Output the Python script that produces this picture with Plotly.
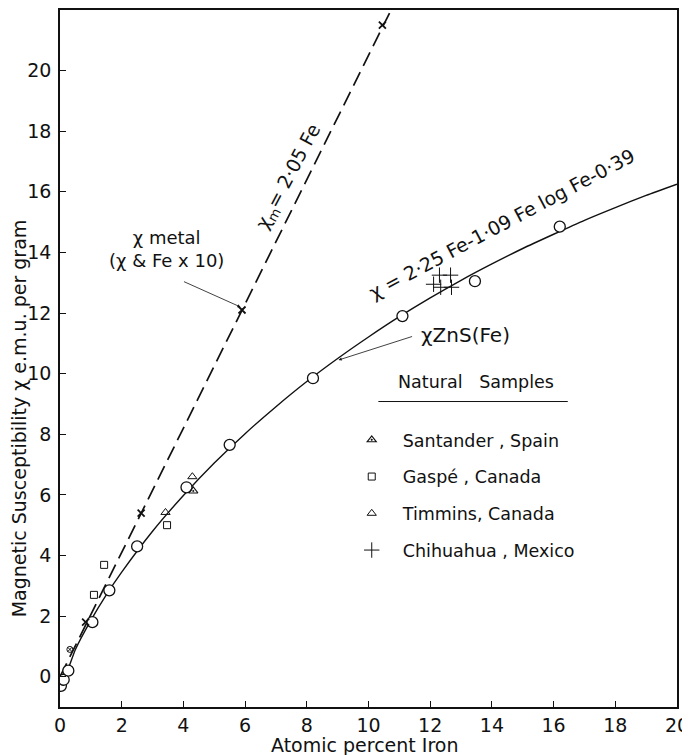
import plotly.graph_objects as go

# ---- data ----
# fitted curve  chi = 2.25 Fe - 1.09 Fe log Fe - 0.39
fit_fe = [0.02, 0.1, 0.25, 0.5, 1, 1.5, 2, 3, 4, 5, 6, 7, 8, 9, 10, 11, 12, 13, 14, 15, 16, 17, 18, 19, 20]
fit_chi = [-0.33, -0.06, 0.22, 0.9, 1.86, 2.7, 3.45, 4.8, 5.98, 7.05, 8.02, 8.91, 9.74, 10.5, 11.21, 11.88, 12.5, 13.08, 13.62, 14.13, 14.6, 15.06, 15.48, 15.88, 16.25]

# metal line  chi_m = 2.05 Fe
metal_line_fe = [0.0, 10.73]
metal_line_chi = [0.0, 22.0]

# synthetic ZnS(Fe) samples (circles)
zns_fe = [0.03, 0.12, 0.27, 1.05, 1.6, 2.5, 4.1, 5.5, 8.2, 11.1, 13.45, 16.2]
zns_chi = [-0.3, -0.1, 0.2, 1.8, 2.85, 4.3, 6.25, 7.65, 9.85, 11.9, 13.05, 14.85]

# metal points (x marks)
metal_fe = [0.83, 2.63, 5.9, 10.45]
metal_chi = [1.8, 5.4, 12.1, 21.5]

# small crossed-circle point
misc_fe = [0.32]
misc_chi = [0.9]

# natural samples
santander_fe = [4.32]
santander_chi = [6.13]
gaspe_fe = [1.1, 1.43, 3.47]
gaspe_chi = [2.7, 3.69, 5.0]
timmins_fe = [3.42, 4.29]
timmins_chi = [5.42, 6.6]
chihuahua_fe = [12.11, 12.3, 12.34, 12.66, 12.69]
chihuahua_chi = [12.95, 13.25, 12.85, 13.25, 12.85]

x_ticks = list(range(0, 21, 2))
y_ticks = list(range(0, 21, 2))

FONT = "DejaVu Sans"
BLACK = "#111111"

fig = go.Figure()

fig.add_trace(go.Scatter(x=metal_line_fe, y=metal_line_chi, mode="lines",
                         line=dict(color=BLACK, width=1.7, dash="15px,7px"),
                         showlegend=False, hoverinfo="skip"))
fig.add_trace(go.Scatter(x=fit_fe, y=fit_chi, mode="lines",
                         line=dict(color=BLACK, width=1.4, shape="spline", smoothing=0.6),
                         showlegend=False, hoverinfo="skip"))
fig.add_trace(go.Scatter(x=zns_fe, y=zns_chi, mode="markers",
                         marker=dict(symbol="circle", size=11, color="white",
                                     line=dict(color=BLACK, width=1.3)),
                         showlegend=False))
fig.add_trace(go.Scatter(x=metal_fe, y=metal_chi, mode="markers",
                         marker=dict(symbol="x-thin-open", size=7, color=BLACK,
                                     line=dict(color=BLACK, width=1.8)),
                         showlegend=False))
fig.add_trace(go.Scatter(x=misc_fe, y=misc_chi, mode="markers",
                         marker=dict(symbol="circle-x-open", size=6, color=BLACK,
                                     line=dict(color=BLACK, width=1)),
                         showlegend=False))

fig.add_trace(go.Scatter(x=santander_fe, y=santander_chi, mode="markers",
                         name="Santander , Spain", legendgroup="a",
                         marker=dict(symbol="triangle-up-open-dot", size=8, color=BLACK,
                                     line=dict(color=BLACK, width=1.1))))
fig.add_trace(go.Scatter(x=gaspe_fe, y=gaspe_chi, mode="markers",
                         name="Gaspé , Canada", legendgroup="b",
                         marker=dict(symbol="square-open", size=7, color=BLACK,
                                     line=dict(color=BLACK, width=1))))
fig.add_trace(go.Scatter(x=timmins_fe, y=timmins_chi, mode="markers",
                         name="Timmins, Canada", legendgroup="c",
                         marker=dict(symbol="triangle-up-open", size=8, color=BLACK,
                                     line=dict(color=BLACK, width=1))))
fig.add_trace(go.Scatter(x=chihuahua_fe, y=chihuahua_chi, mode="markers",
                         name="Chihuahua , Mexico", legendgroup="d",
                         marker=dict(symbol="cross-thin-open", size=11, color=BLACK,
                                     line=dict(color=BLACK, width=1))))

annotations = [
    dict(x=7.43, y=16.5, xref="x", yref="y", text="χ<sub>m</sub>= 2·05 Fe",
         textangle=-62, showarrow=False, font=dict(family=FONT, size=19, color=BLACK)),
    dict(x=14.3, y=14.95, xref="x", yref="y",
         text="χ = 2·25 Fe-1·09 Fe log Fe-0·39",
         textangle=-28, showarrow=False, font=dict(family=FONT, size=19, color=BLACK)),
    dict(x=3.44, y=14.1, xref="x", yref="y", text="χ metal<br>(χ & Fe x 10)",
         showarrow=False, font=dict(family=FONT, size=18, color=BLACK)),
    dict(x=5.85, y=12.2, xref="x", yref="y", text="", showarrow=True,
         ax=-58, ay=-26, arrowhead=2, arrowsize=0.8, arrowwidth=0.8, arrowcolor=BLACK),
    dict(x=13.15, y=11.27, xref="x", yref="y", text="χZnS(Fe)",
         showarrow=False, font=dict(family=FONT, size=20, color=BLACK)),
    dict(x=9.03, y=10.45, xref="x", yref="y", text="", showarrow=True,
         ax=75, ay=-24, arrowhead=2, arrowsize=0.8, arrowwidth=0.8, arrowcolor=BLACK),
    dict(x=13.5, y=9.72, xref="x", yref="y", text="Natural   Samples",
         showarrow=False, font=dict(family=FONT, size=17.5, color=BLACK)),
    # axis titles
    dict(x=-0.066, y=0.4146, xref="paper", yref="paper", xanchor="center", yanchor="middle",
         text="Magnetic Susceptibility χ e.m.u. per gram", textangle=-90,
         showarrow=False, font=dict(family=FONT, size=19, color=BLACK)),
    dict(x=0.494, y=-0.0545, xref="paper", yref="paper", xanchor="center", yanchor="middle",
         text="Atomic percent Iron",
         showarrow=False, font=dict(family=FONT, size=19, color=BLACK)),
]

fig.add_shape(type="line", x0=10.32, x1=16.46, y0=9.08, y1=9.08, xref="x", yref="y",
              line=dict(color=BLACK, width=1))

axis_common = dict(showline=True, mirror=True, linecolor=BLACK, linewidth=1.6,
                   ticks="inside", ticklen=6, tickwidth=1.2, tickcolor=BLACK,
                   showgrid=False, zeroline=False, automargin=False,
                   ticklabeloverflow="allow",
                   tickfont=dict(family=FONT, size=19, color=BLACK))

# page body adds an 8px margin at left/top, so the figure is sized to fill the rest
fig.update_layout(
    width=682, height=747,
    margin=dict(l=52, r=13, t=2, b=48),
    paper_bgcolor="white", plot_bgcolor="white",
    annotations=annotations,
    showlegend=True,
    legend=dict(x=0.455, y=0.409, xanchor="left", yanchor="top",
                font=dict(family=FONT, size=17.5, color=BLACK),
                tracegroupgap=11, bgcolor="rgba(0,0,0,0)", itemwidth=52),
    xaxis=dict(range=[0, 20], tickvals=x_ticks, ticklabelstandoff=0, **axis_common),
    yaxis=dict(range=[-1, 22], tickvals=y_ticks, ticklabelstandoff=3, **axis_common),
)

fig.write_html("out.html")
